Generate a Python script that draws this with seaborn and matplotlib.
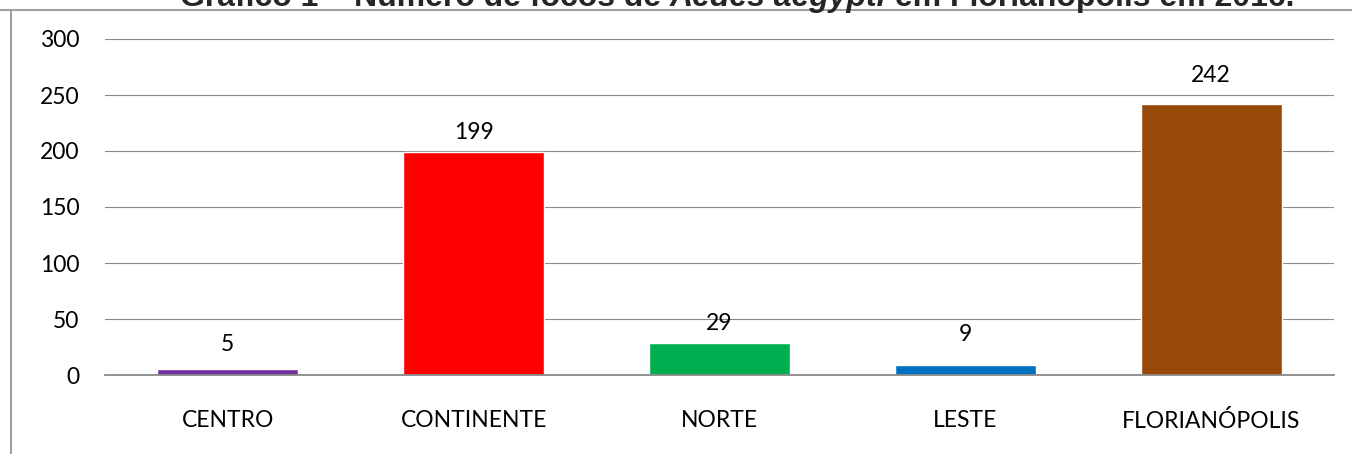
import matplotlib
matplotlib.use("Agg")
import matplotlib.pyplot as plt
import seaborn as sns
import pandas as pd
from matplotlib.lines import Line2D

categories = ["CENTRO", "CONTINENTE", "NORTE", "LESTE", "FLORIANÓPOLIS"]
values = [5, 199, 29, 9, 242]
colors = ["#7030A0", "#FF0000", "#00B050", "#0070C0", "#984807"]
yticks = [0, 50, 100, 150, 200, 250, 300]
title_parts = ["Gráfico 1 – Número de focos de ", "Aedes aegypti", " em Florianópolis em 2016."]
title_italic = [False, True, False]
label_pads = [10.3, 6.7, 6.0, 14.6, 13.2]

sns.set_theme(style="white")
plt.rcParams['font.family'] = ['Lato', 'DejaVu Sans']

W, H = 1352, 454
fig = plt.figure(figsize=(W / 100, H / 100), dpi=100)
ax = fig.add_axes([105 / W, 1 - 375 / H, (1334 - 105) / W, (375 - 39) / H])

df = pd.DataFrame({"cat": categories, "val": values})
sns.barplot(data=df, x="cat", y="val", hue="cat", palette=colors, legend=False,
            width=0.573, saturation=1, ax=ax)

ax.set_ylim(0, 300)
ax.set_yticks(yticks)
ax.set_xlim(-0.5, len(categories) - 0.5)
ax.grid(axis="y", color="#898989", linewidth=0.8)
ax.set_axisbelow(True)
for s in ["top", "right", "left"]:
    ax.spines[s].set_visible(False)
ax.spines["bottom"].set_color("#898989")
ax.spines["bottom"].set_linewidth(1.3)
ax.tick_params(axis="both", length=0, labelsize=16.5, colors="black")
ax.tick_params(axis="y", pad=18.5)
ax.tick_params(axis="x", pad=25)
ax.set_xlabel("")
ax.set_ylabel("")

for c, p in zip(ax.containers, label_pads):
    ax.bar_label(c, fmt="%d", padding=p, fontsize=16.5, color="black")

# frame lines
fig.add_artist(Line2D([0, 1], [1 - 9.5 / H, 1 - 9.5 / H], transform=fig.transFigure,
                      color="#a0a0a0", linewidth=1.5))
fig.add_artist(Line2D([10.5 / W, 10.5 / W], [0, 1 - 9.5 / H], transform=fig.transFigure,
                      color="#a0a0a0", linewidth=1.5))

# title (clipped at top edge as in the reference), pieces placed side by side
renderer = fig.canvas.get_renderer()
x_px = 180
for part, it in zip(title_parts, title_italic):
    t = fig.text(x_px / W, 1 - 6 / H, part, ha="left", va="baseline",
                 fontsize=23, fontweight="bold",
                 fontstyle="italic" if it else "normal", family="Liberation Sans")
    bb = t.get_window_extent(renderer=renderer)
    x_px += bb.width

fig.savefig("out.png", dpi=100)
